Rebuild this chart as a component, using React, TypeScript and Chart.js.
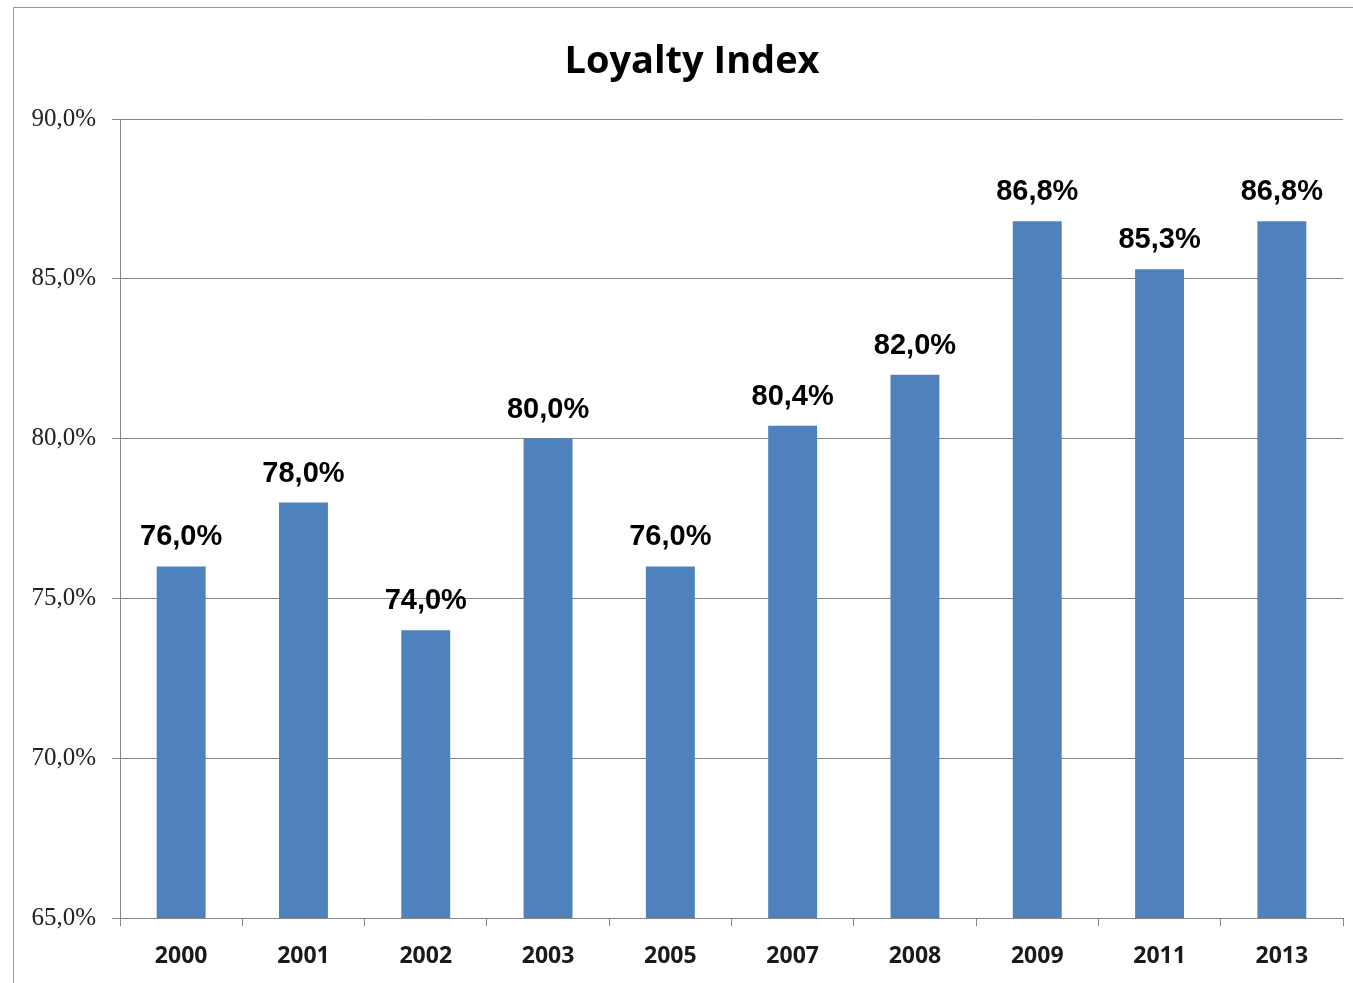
import React, { useEffect, useRef } from "react";
import { Chart, registerables } from "chart.js";

Chart.register(...registerables);

const categories = ["2000", "2001", "2002", "2003", "2005", "2007", "2008", "2009", "2011", "2013"];
const loyaltyValues = [76.0, 78.0, 74.0, 80.0, 76.0, 80.4, 82.0, 86.8, 85.3, 86.8];
const yTicks = [65, 70, 75, 80, 85, 90];
const titleText = "Loyalty Index";

const fmt = (v: number) => v.toFixed(1).replace(".", ",") + "%";

export default function App() {
  const ref = useRef<HTMLCanvasElement | null>(null);
  useEffect(() => {
    document.body.style.margin = "0";
    document.body.style.overflow = "hidden";
    const canvas = ref.current!;
    const bgPlugin = {
      id: "bgBorder",
      beforeDraw(chart: any) {
        const ctx = chart.ctx;
        ctx.save();
        ctx.fillStyle = "#ffffff";
        ctx.fillRect(0, 0, chart.width, chart.height);
        ctx.strokeStyle = "#9a9a9a";
        ctx.lineWidth = 1;
        ctx.strokeRect(13.5, 7.5, chart.width + 20, chart.height + 20);
        ctx.restore();
      },
    };
    const labelPlugin = {
      id: "barLabels",
      afterDatasetsDraw(chart: any) {
        const ctx = chart.ctx;
        const meta = chart.getDatasetMeta(0);
        ctx.save();
        ctx.fillStyle = "#000000";
        ctx.font = "bold 29px 'Liberation Sans', Arial, sans-serif";
        ctx.textAlign = "center";
        ctx.textBaseline = "alphabetic";
        meta.data.forEach((bar: any, i: number) => {
          ctx.fillText(fmt(loyaltyValues[i]), bar.x, bar.y - 21);
        });
        ctx.restore();
      },
    };
    const titlePlugin = {
      id: "customTitle",
      afterDraw(chart: any) {
        const ctx = chart.ctx;
        ctx.save();
        ctx.fillStyle = "#000000";
        ctx.font = "bold 38px 'Open Sans', sans-serif";
        ctx.textAlign = "center";
        ctx.textBaseline = "alphabetic";
        ctx.fillText(titleText, 692, 73);
        ctx.restore();
      },
    };
    const chart = new Chart(canvas, {
      type: "bar",
      data: {
        labels: categories,
        datasets: [
          {
            data: loyaltyValues,
            backgroundColor: "#4F81BD",
            borderWidth: 0,
            barPercentage: 0.4,
            categoryPercentage: 1.0,
          },
        ],
      },
      options: {
        responsive: false,
        animation: false,
        layout: { padding: { top: 119, right: 10, left: 0, bottom: 0 } },
        plugins: {
          legend: { display: false },
          title: { display: false },
          tooltip: { enabled: false },
        },
        scales: {
          x: {
            afterFit(scale: any) {
              scale.height = 65;
            },
            grid: {
              display: true,
              drawOnChartArea: false,
              offset: true,
              tickLength: 8,
              color: "#868686",
            },
            border: { color: "#868686" },
            ticks: {
              color: "#1a1a1a",
              padding: 17,
              font: { family: "'Open Sans', sans-serif", size: 23, weight: "bold" },
            },
          },
          y: {
            min: 65,
            max: 90,
            afterFit(scale: any) {
              scale.width = 120;
            },
            afterBuildTicks(scale: any) {
              scale.ticks = yTicks.map((v) => ({ value: v }));
            },
            grid: { color: "#868686", tickLength: 8 },
            border: { color: "#868686" },
            ticks: {
              color: "#222222",
              padding: 16,
              font: { family: "'Liberation Serif', 'Times New Roman', serif", size: 25 },
              callback: (v: any) => fmt(Number(v)),
            },
          },
        },
      },
      plugins: [bgPlugin, labelPlugin, titlePlugin],
    });
    return () => chart.destroy();
  }, []);
  return <canvas ref={ref} width={1353} height={983} style={{ display: "block" }} />;
}
